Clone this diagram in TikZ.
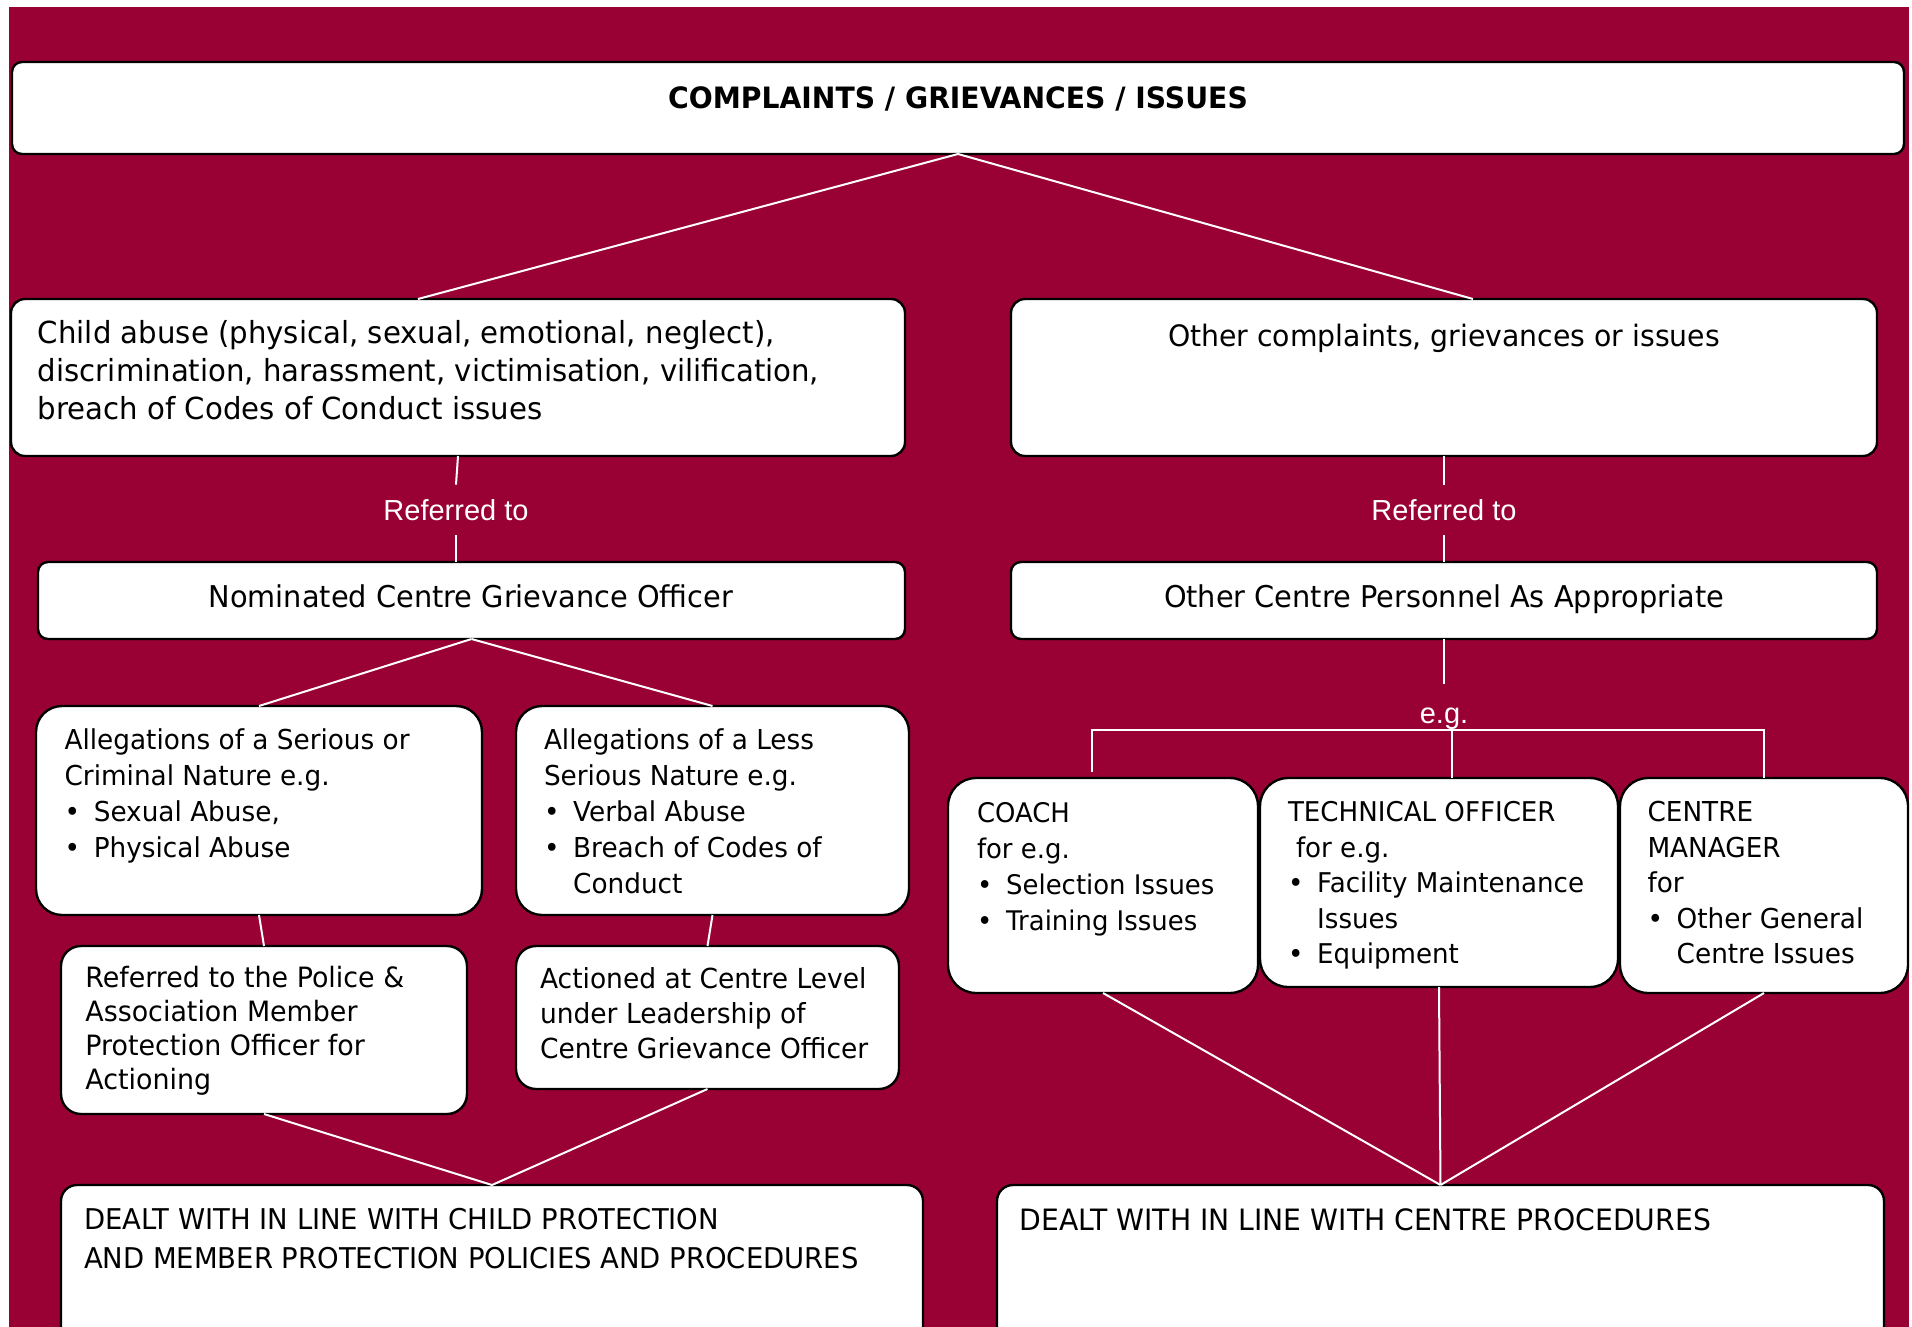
\documentclass[tikz,border=0pt]{standalone}
\usepackage{fontspec}
\setmainfont{DejaVu Sans}[FakeStretch=0.96]
\newfontfamily\labfont{Liberation Sans}
\usetikzlibrary{calc}
\definecolor{maroon}{RGB}{153,0,51}
\newcommand\mybox[6]{\node[box, rounded corners=#6, minimum width={(#4-#2)*0.5pt}, minimum height={(#5-#3)*0.5pt}] (#1) at (#2,#3) {};}
\newcommand\bul{\makebox[14.6pt][l]{\textbullet}}
\newcommand\ind{\hspace*{14.6pt}}
\begin{document}
\begin{tikzpicture}[x=0.5pt,y=-0.5pt,
  box/.style={draw=black, fill=white, line width=1.2pt, inner sep=0pt, outer sep=0pt, anchor=north west},
  txt/.style 2 args={anchor=north west, inner sep=0pt, outer sep=0pt, align=left, font=\fontsize{#1}{#2}\selectfont},
  one/.style={inner sep=0pt, font=\fontsize{#1}{18}\selectfont},
  one/.default=15pt,
  conn/.style={draw=white, line width=1pt},
  lbl/.style={text=white, font=\labfont\fontsize{14.5}{16}\selectfont, inner xsep=1pt, outer sep=0pt}]
\useasboundingbox (0,0) rectangle (1912,1327);
\clip (0,0) rectangle (1912,1327);
\fill[white] (0,0) rectangle (1912,1327);
\fill[maroon] (9,7) rectangle (1909,1327);

% boxes
\mybox{top}{12}{62}{1904}{154}{5pt}
\mybox{child}{11}{299}{905}{456}{7pt}
\mybox{other}{1011}{299}{1877}{456}{7pt}
\mybox{nom}{38}{562}{905}{639}{5pt}
\mybox{op}{1011}{562}{1877}{639}{5pt}
\mybox{ser}{36}{706}{482}{915}{13pt}
\mybox{less}{516}{706}{909}{915}{13pt}
\mybox{police}{61}{946}{467}{1114}{10pt}
\mybox{act}{516}{946}{899}{1089}{10pt}
\mybox{coach}{948}{778}{1258}{993}{14pt}
\mybox{tech}{1260}{778}{1618}{987}{14pt}
\mybox{mgr}{1620}{778}{1908}{993}{14pt}
\mybox{dealtA}{61}{1185}{923}{1360}{8pt}
\mybox{dealtB}{997}{1185}{1884}{1360}{8pt}

% texts
\node[inner sep=0pt, anchor=base, font=\fontsize{14.7pt}{18pt}\selectfont\bfseries] (ttop) at (958,109) {COMPLAINTS / GRIEVANCES / ISSUES};
\node[txt={15.2pt}{19pt}] (tchild) at (38,317) {\strut Child abuse (physical, sexual, emotional, neglect),\\discrimination, harassment, victimisation, vilification,\\breach of Codes of Conduct issues};
\node[one=14.75pt, anchor=base] (tother) at (1444,346) {Other complaints, grievances or issues};
\node[one, anchor=base] (tnom) at (471,607) {Nominated Centre Grievance Officer};
\node[one, anchor=base] (top2) at (1444,607) {Other Centre Personnel As Appropriate};
\node[txt={13.7pt}{18pt}] (tser) at (64.6,724.5) {\strut Allegations of a Serious or\\Criminal Nature e.g.\\\bul Sexual Abuse,\\\bul Physical Abuse};
\node[txt={13.7pt}{18pt}] (tless) at (544,724.5) {\strut Allegations of a Less\\Serious Nature e.g.\\\bul Verbal Abuse\\\bul Breach of Codes of\\\ind Conduct};
\node[txt={14pt}{17pt}] (tpolice) at (85.4,964) {\strut Referred to the Police \&\\Association Member\\Protection Officer for\\Actioning};
\node[txt={13.8pt}{17.5pt}] (tact) at (540,963.5) {\strut Actioned at Centre Level\\under Leadership of\\Centre Grievance Officer};
\node[txt={13.5pt}{18pt}] (tcoach) at (977,796.8) {\strut COACH\\for e.g.\\\bul Selection Issues\\\bul Training Issues};
\node[txt={13.6pt}{17.7pt}] (ttech) at (1288,797.2) {\strut TECHNICAL OFFICER\\\hspace*{4pt}for e.g.\\\bul Facility Maintenance\\\ind Issues\\\bul Equipment};
\node[txt={13.7pt}{17.7pt}] (tmgr) at (1647.5,797.2) {\strut CENTRE\\MANAGER\\for\\\bul Other General\\\ind Centre Issues};
\node[txt={14.3pt}{19.5pt}] (tdA) at (84,1201.7) {\strut DEALT WITH IN LINE WITH CHILD PROTECTION\\AND MEMBER PROTECTION POLICIES AND PROCEDURES};
\node[one=14.7pt, anchor=base west] (tdB) at (1019.4,1230) {DEALT WITH IN LINE WITH CENTRE PROCEDURES};

% labels
\node[lbl, text height=10.6pt, text depth=0pt, inner ysep=7.4pt] (ref1) at (456,510) {Referred to};
\node[lbl, text height=10.6pt, text depth=0pt, inner ysep=7.4pt] (ref2) at (1444,510) {Referred to};
\node[lbl, anchor=base, text height=7.5pt, text depth=3pt, inner ysep=12pt] (eg) at (1444,723) {e.g.};

% connectors
\draw[conn] (top.south) -- ([xshift=-20pt]child.north);
\draw[conn] (top.south) -- ([xshift=14.5pt]other.north);
\draw[conn] (child.south) -- (ref1.north);
\draw[conn] (ref1.south) -- (nom.north -| ref1.south);
\draw[conn] (other.south) -- (ref2.north);
\draw[conn] (ref2.south) -- (op.north);
\draw[conn] (nom.south) -- (ser.north);
\draw[conn] (nom.south) -- (less.north);
\draw[conn] (op.south) -- (eg.north);
\coordinate (egl) at (1092,730);
\coordinate (egm) at (1452,730);
\coordinate (egr) at (1764,730);
\coordinate (coachtip) at (1092,772);
\draw[conn] (coachtip) -- (egl) -- (egr) -- (mgr.north);
\draw[conn] (egm) -- (tech.north -| egm);
\draw[conn] (ser.south) -- (police.north);
\draw[conn] (less.south) -- (act.north);
\draw[conn] (police.south) -- (dealtA.north);
\draw[conn] (act.south) -- (dealtA.north);
\draw[conn] (coach.south) -- (dealtB.north);
\draw[conn] (tech.south) -- (dealtB.north);
\draw[conn] (mgr.south) -- (dealtB.north);
\end{tikzpicture}
\end{document}
